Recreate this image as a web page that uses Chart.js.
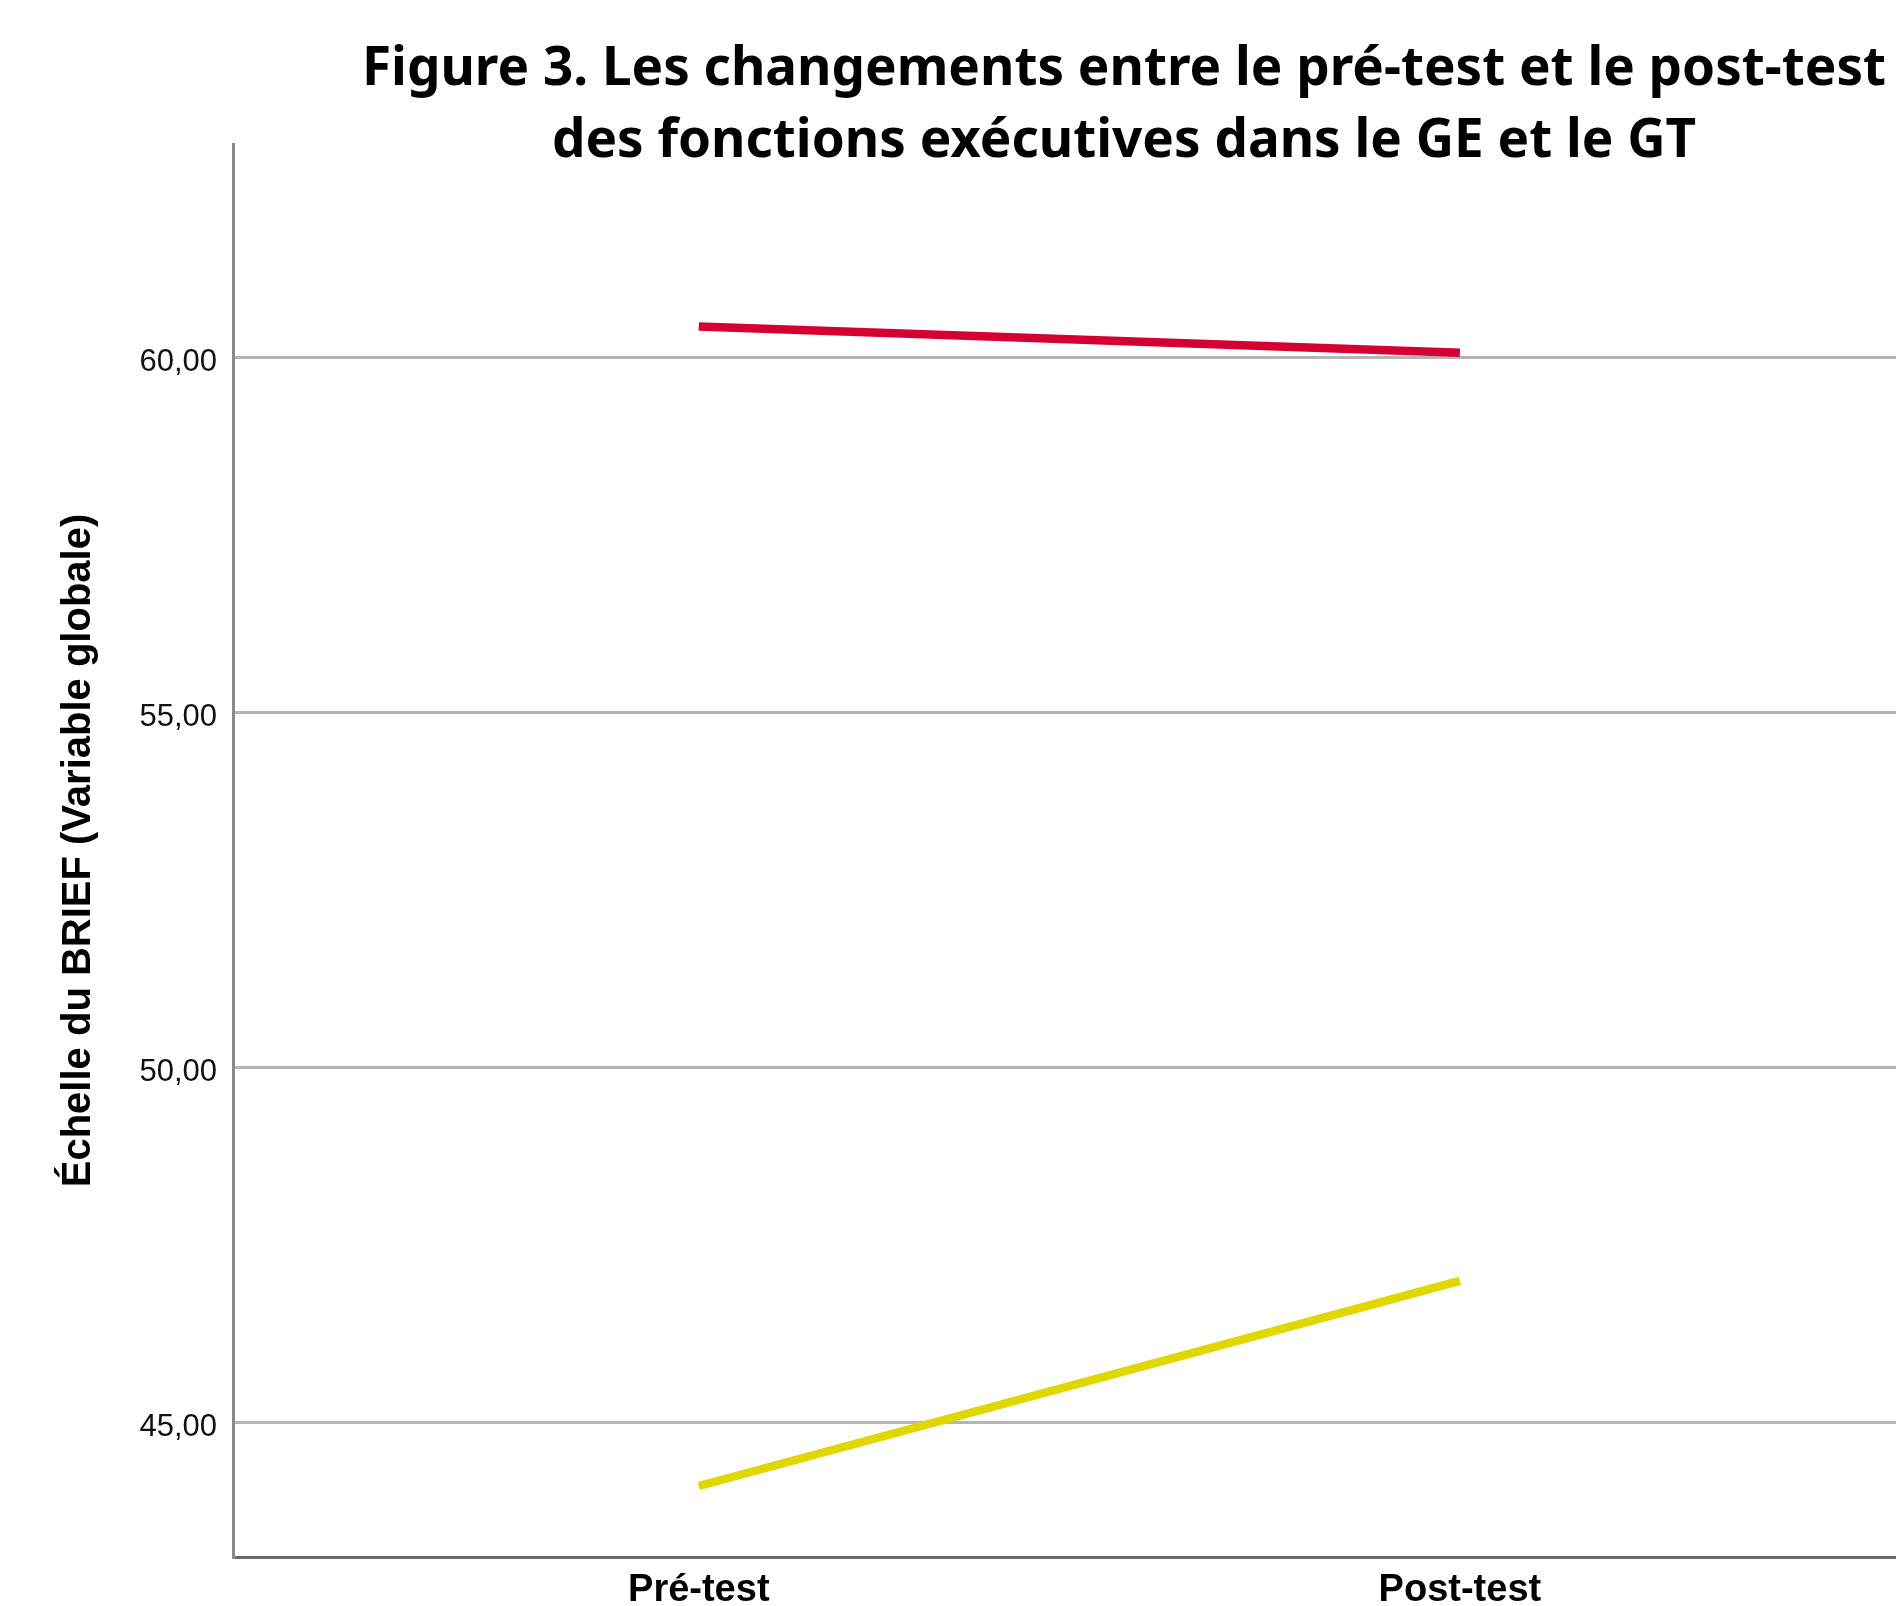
<!DOCTYPE html>
<html>
<head>
<meta charset="utf-8">
<script src="https://cdn.jsdelivr.net/npm/chart.js@4/dist/chart.umd.min.js"></script>
<style>
  html, body { margin: 0; padding: 0; background: #ffffff; overflow: hidden; }
  #wrap { width: 1896px; height: 1606px; }
</style>
</head>
<body>
<div id="wrap"><canvas id="c" width="1896" height="1606"></canvas></div>
<script>
// ---- Data ----
const titleLines = ["Figure 3. Les changements entre le pré-test et le post-test", "des fonctions exécutives dans le GE et le GT"];
const categories = ["Pré-test", "Post-test"];
const seriesRed = [60.43, 60.06];     // red line
const seriesYellow = [44.10, 46.99];  // yellow line
const yTicks = [45, 50, 55, 60];
const yAxisTitle = "Échelle du BRIEF (Variable globale)";

const titlePlugin = {
  id: 'customTitle',
  afterDraw(chart) {
    const ctx = chart.ctx;
    ctx.save();
    ctx.font = 'bold 53px "Noto Sans"';
    ctx.fillStyle = '#000000';
    ctx.textAlign = 'center';
    ctx.textBaseline = 'alphabetic';
    const baselines = [85, 157];
    titleLines.forEach((t, i) => ctx.fillText(t, 1124, baselines[i]));
    ctx.restore();
  }
};

new Chart(document.getElementById('c'), {
  type: 'line',
  data: {
    datasets: [
      {
        label: 'GT',
        data: seriesRed.map((v, i) => ({ x: i, y: v })),
        borderColor: '#d50032',
        borderWidth: 8.5,
        pointRadius: 0,
        fill: false,
        tension: 0
      },
      {
        label: 'GE',
        data: seriesYellow.map((v, i) => ({ x: i, y: v })),
        borderColor: '#e0d600',
        borderWidth: 8.5,
        pointRadius: 0,
        fill: false,
        tension: 0
      }
    ]
  },
  plugins: [titlePlugin],
  options: {
    responsive: false,
    animation: false,
    layout: { padding: { top: 144, right: 0, bottom: 0, left: 0 } },
    plugins: {
      legend: { display: false },
      tooltip: { enabled: false },
      title: { display: false }
    },
    scales: {
      x: {
        type: 'linear',
        min: -0.612,
        max: 1.573,
        afterBuildTicks(scale) { scale.ticks = categories.map((c, i) => ({ value: i })); },
        afterFit(scale) { scale.height = 49; },
        grid: { display: false, drawTicks: false },
        border: { display: true, color: '#6a6a6a', width: 3 },
        ticks: {
          callback: (v) => categories[v],
          font: { family: '"Liberation Sans", Arial', size: 38, weight: 'bold' },
          color: '#000000',
          padding: 11,
          maxRotation: 0,
          autoSkip: false
        }
      },
      y: {
        type: 'linear',
        min: 43.1,
        max: 63.0,
        afterBuildTicks(scale) { scale.ticks = yTicks.map(v => ({ value: v })); },
        afterFit(scale) { scale.width = 233; },
        grid: { display: true, color: '#b5b5b5', lineWidth: 3, drawTicks: false },
        border: { display: true, color: '#8a8a8a', width: 3 },
        ticks: {
          callback: (v) => v.toFixed(2).replace('.', ','),
          font: { family: '"Liberation Sans", Arial', size: 31 },
          color: '#111111',
          padding: 16,
          labelOffset: 5
        },
        title: {
          display: true,
          text: yAxisTitle,
          font: { family: '"Liberation Sans", Arial', size: 40, weight: 'bold' },
          color: '#000000',
          padding: { top: 55, bottom: 0 }
        }
      }
    }
  }
});
</script>
</body>
</html>
